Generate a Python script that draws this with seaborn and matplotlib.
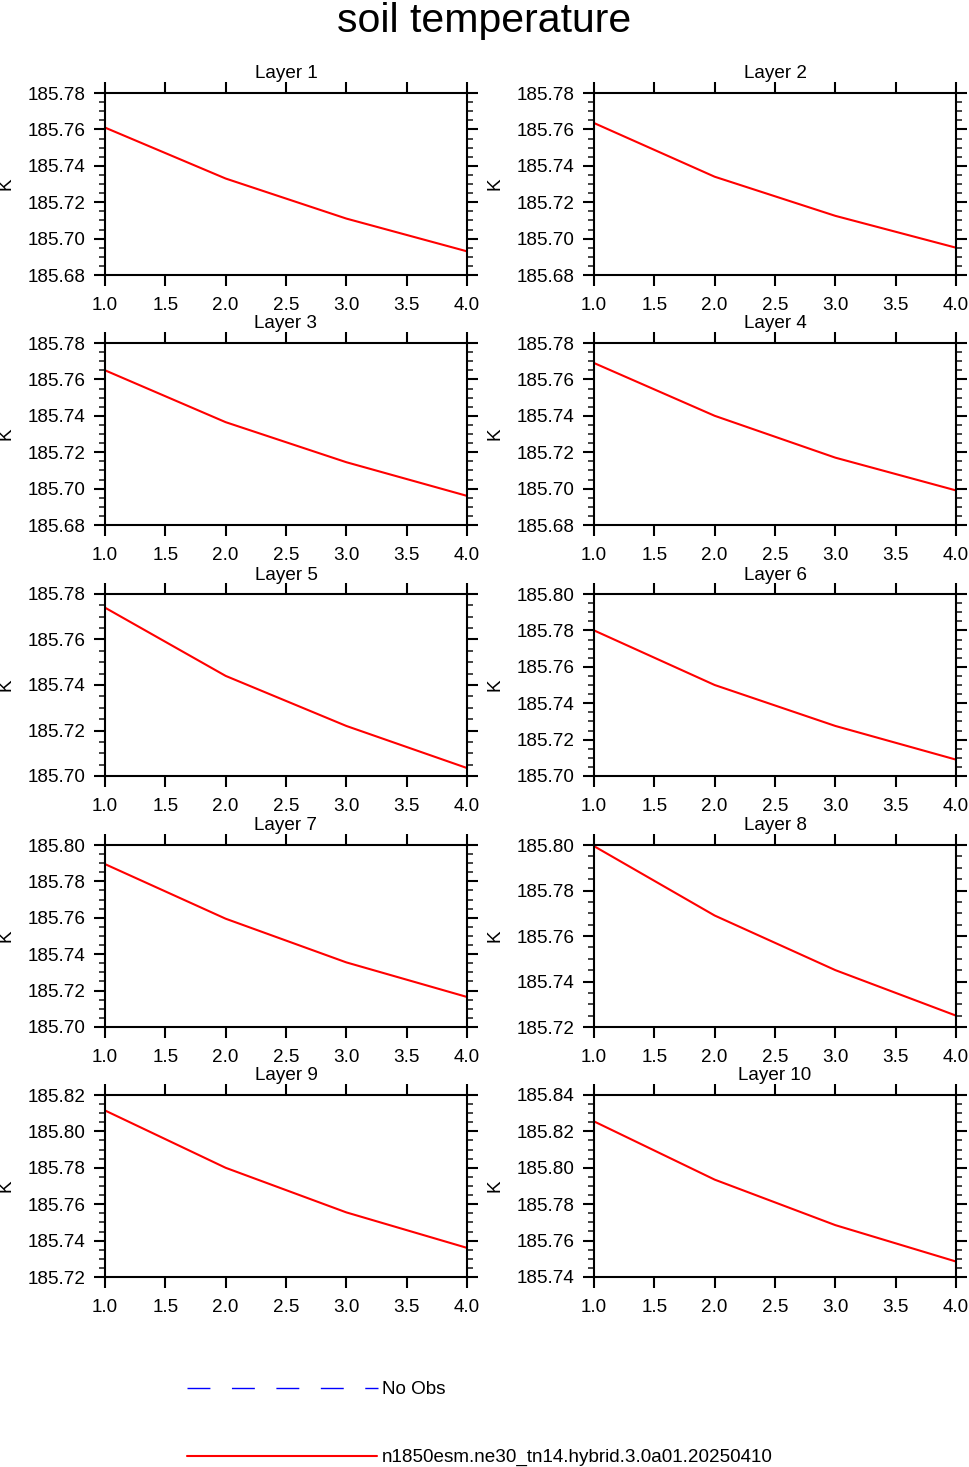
import numpy as np
import pandas as pd
import matplotlib
matplotlib.use("Agg")
import matplotlib.pyplot as plt
from matplotlib.ticker import MultipleLocator, FormatStrFormatter
import seaborn as sns

# ---------------- data ----------------
time_x = [1.0, 2.0, 3.0, 4.0]
layer_names = ["Layer 1", "Layer 2", "Layer 3", "Layer 4", "Layer 5",
               "Layer 6", "Layer 7", "Layer 8", "Layer 9", "Layer 10"]
layer1 = [185.761, 185.733, 185.711, 185.693]
layer2 = [185.7635, 185.734, 185.7125, 185.695]
layer3 = [185.765, 185.7365, 185.7145, 185.696]
layer4 = [185.769, 185.740, 185.717, 185.699]
layer5 = [185.774, 185.744, 185.722, 185.7035]
layer6 = [185.780, 185.750, 185.7275, 185.709]
layer7 = [185.7895, 185.7595, 185.7355, 185.7165]
layer8 = [185.7995, 185.769, 185.745, 185.725]
layer9 = [185.8115, 185.780, 185.7555, 185.736]
layer10 = [185.8255, 185.7935, 185.7685, 185.7485]
layer_values = [layer1, layer2, layer3, layer4, layer5,
                layer6, layer7, layer8, layer9, layer10]
y_limits = [(185.68, 185.78), (185.68, 185.78), (185.68, 185.78), (185.68, 185.78),
            (185.70, 185.78), (185.70, 185.80), (185.70, 185.80), (185.72, 185.80),
            (185.72, 185.82), (185.74, 185.84)]
x_ticks = [1.0, 1.5, 2.0, 2.5, 3.0, 3.5, 4.0]
case_name = "n1850esm.ne30_tn14.hybrid.3.0a01.20250410"
obs_name = "No Obs"
main_title = "soil temperature"
y_unit = "K"

# ---------------- style ----------------
sns.set_style("ticks")
plt.rcParams["font.family"] = ["Liberation Sans", "DejaVu Sans"]
plt.rcParams["axes.linewidth"] = 1.5
plt.rcParams["text.color"] = "black"
plt.rcParams["axes.labelcolor"] = "black"

FS = 13.6
W, H = 969, 1467
fig = plt.figure(figsize=(W / 100, H / 100), dpi=100)

col_left = [105, 594]
row_top = [93, 343, 594, 845, 1095]
aw, ah = 362, 182

for i, (name, vals, ylim) in enumerate(zip(layer_names, layer_values, y_limits)):
    r, c = divmod(i, 2)
    x0 = col_left[c]
    y0 = row_top[r]
    ax = fig.add_axes([x0 / W, 1 - (y0 + ah) / H, aw / W, ah / H])
    df = pd.DataFrame({"x": time_x, "y": vals})
    sns.lineplot(data=df, x="x", y="y", ax=ax, color="#ff0000", linewidth=1.5)
    ax.set_xlim(1.0, 4.0)
    ax.set_ylim(*ylim)
    ax.set_xticks(x_ticks)
    ax.xaxis.set_major_formatter(FormatStrFormatter("%.1f"))
    ax.yaxis.set_major_locator(MultipleLocator(0.02))
    ax.yaxis.set_minor_locator(MultipleLocator(0.005))
    ax.yaxis.set_major_formatter(FormatStrFormatter("%.2f"))
    ax.tick_params(axis="both", which="major", direction="out", length=8, width=1.5,
                   top=True, right=True, labelsize=FS, color="black", labelcolor="black")
    ax.tick_params(axis="y", which="minor", direction="out", length=4, width=1.2,
                   left=True, right=True)
    ax.tick_params(axis="x", which="major", pad=8)
    ax.tick_params(axis="y", which="major", pad=6)
    for sp in ax.spines.values():
        sp.set_visible(True)
        sp.set_color("black")
        sp.set_linewidth(1.5)
    ax.set_xlabel("")
    ax.set_ylabel(y_unit, fontsize=FS)
    ax.yaxis.set_label_coords(-0.25, 0.5)
    ax.text(0.5, 1 + 19 / ah, name, transform=ax.transAxes, ha="center",
            va="center", fontsize=FS)

fig.text(0.5, 1 - 1.5 / H, main_title, ha="center", va="top", fontsize=29.5)

# legend area
lax = fig.add_axes([0, 0, 1, 1])
lax.set_xlim(0, W)
lax.set_ylim(H, 0)
lax.axis("off")
lax.plot([187, 378], [1388, 1388], color="#0000ff", linewidth=1.0,
         dashes=(16.5, 15.5))
lax.text(382, 1389, obs_name, ha="left", va="center", fontsize=FS)
lax.plot([187, 377], [1456, 1456], color="#ff0000", linewidth=1.5)
lax.text(382, 1457, case_name, ha="left", va="center", fontsize=FS)

fig.savefig("out.png", dpi=100)
